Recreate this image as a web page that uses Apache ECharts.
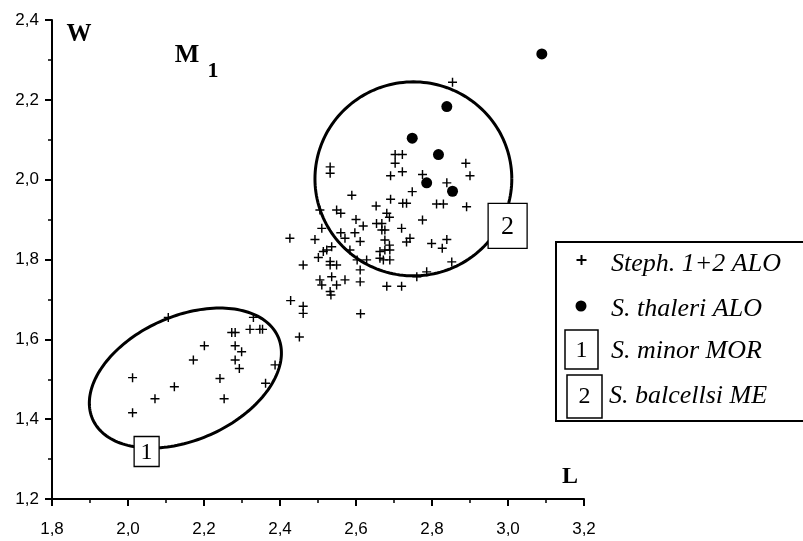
<!DOCTYPE html>
<html><head><meta charset="utf-8">
<script src="https://cdn.jsdelivr.net/npm/echarts/dist/echarts.min.js"></script>
<style>html,body{margin:0;padding:0;background:#fff}#c{width:803px;height:541px}</style>
</head><body><div id="c"></div>
<script>
// ---- data ----
const xTickValues = [1.8, 2.0, 2.2, 2.4, 2.6, 2.8, 3.0, 3.2];
const yTickValues = [1.2, 1.4, 1.6, 1.8, 2.0, 2.2, 2.4];
const stephPoints = [
  [2.854,2.244],[2.703,2.063],[2.722,2.063],[2.703,2.041],[2.889,2.041],
  [2.532,2.032],[2.532,2.016],[2.691,2.010],[2.722,2.020],[2.775,2.013],
  [2.900,2.010],[2.839,1.992],[2.748,1.970],[2.589,1.961],[2.691,1.951],
  [2.723,1.941],[2.733,1.941],[2.812,1.939],[2.830,1.939],[2.891,1.932],
  [2.653,1.934],[2.505,1.924],[2.549,1.924],[2.560,1.916],[2.681,1.916],
  [2.688,1.906],[2.775,1.899],[2.600,1.900],[2.619,1.884],[2.720,1.878],
  [2.510,1.878],[2.654,1.890],[2.668,1.890],[2.668,1.874],[2.676,1.874],
  [2.560,1.867],[2.597,1.867],[2.571,1.853],[2.611,1.845],[2.426,1.853],
  [2.492,1.850],[2.536,1.832],[2.676,1.849],[2.688,1.836],[2.742,1.853],
  [2.733,1.844],[2.839,1.850],[2.827,1.828],[2.799,1.840],[2.514,1.820],
  [2.523,1.824],[2.501,1.805],[2.584,1.824],[2.628,1.799],[2.663,1.820],
  [2.676,1.824],[2.689,1.824],[2.663,1.803],[2.672,1.799],[2.689,1.799],
  [2.603,1.799],[2.461,1.786],[2.532,1.786],[2.549,1.786],[2.532,1.795],
  [2.611,1.774],[2.536,1.757],[2.505,1.749],[2.510,1.736],[2.549,1.736],
  [2.571,1.749],[2.611,1.744],[2.681,1.733],[2.720,1.733],[2.760,1.757],
  [2.786,1.769],[2.852,1.794],[2.532,1.720],[2.534,1.711],[2.428,1.697],
  [2.461,1.683],[2.461,1.665],[2.612,1.664],[2.451,1.606],
  [2.106,1.655],[2.330,1.655],[2.273,1.617],[2.282,1.617],[2.321,1.625],
  [2.347,1.625],[2.354,1.625],[2.201,1.584],[2.282,1.584],[2.299,1.569],
  [2.172,1.548],[2.282,1.548],[2.293,1.527],[2.387,1.536],[2.012,1.504],
  [2.122,1.481],[2.242,1.502],[2.362,1.490],[2.071,1.451],[2.253,1.451],
  [2.012,1.416]
];
const thaleriPoints = [
  [3.089,2.315],[2.839,2.183],[2.748,2.104],[2.817,2.063],[2.786,1.992],[2.854,1.971]
];
const groupLabels = ['1', '2'];
const legendNames = ['Steph. 1+2 ALO', 'S. thaleri ALO', 'S. minor MOR', 'S. balcellsi ME'];

// ---- annotation geometry (ellipses drawn around groups) ----
const ELLIPSES = [
  {cx:2.151, cy:1.503, rx:0.267, ry:0.155, rot:24, box:{cx:2.049, cy:1.319, w:25, h:30, font:24}},
  {cx:2.751, cy:2.002, rx:0.259, ry:0.243, rot:0,  box:{cx:2.999, cy:1.884, w:39, h:45, font:26}}
];

const fmt = v => v.toFixed(1).replace('.', ',');
const PLUS = 'path://M0,4.2H10V5.8H0ZM4.2,0H5.8V10H4.2Z';
const serif = '"Liberation Serif", "DejaVu Serif", serif';

const chart = echarts.init(document.getElementById('c'), null, {renderer:'canvas'});
const axisCommon = {
  type:'value',
  splitLine:{show:false},
  axisLine:{show:true, onZero:false, lineStyle:{color:'#000', width:2}},
  axisTick:{show:true, inside:false, length:7, lineStyle:{color:'#000', width:2}},
  minorTick:{show:true, splitNumber:2, length:4, lineStyle:{color:'#000', width:1.5}},
  minorSplitLine:{show:false}
};
chart.setOption({
  animation:false,
  backgroundColor:'#fff',
  grid:{left:52, right:219, top:20, bottom:42, containLabel:false},
  xAxis:Object.assign({}, axisCommon, {
    min:xTickValues[0], max:xTickValues[xTickValues.length-1], interval:0.2,
    axisLabel:{margin:22, fontSize:17, color:'#000', fontFamily:'"Liberation Sans", Arial, sans-serif',
      showMinLabel:true, showMaxLabel:true, formatter:fmt}
  }),
  yAxis:Object.assign({}, axisCommon, {
    min:yTickValues[0], max:yTickValues[yTickValues.length-1], interval:0.2,
    axisLabel:{margin:13, fontSize:17, color:'#000', fontFamily:'"Liberation Sans", Arial, sans-serif',
      showMinLabel:true, showMaxLabel:true, formatter:fmt}
  }),
  series:[
    {
      type:'custom', name:'ellipses', silent:true, clip:false, z:1,
      data:ELLIPSES.map((e,i)=>[e.cx, e.cy]),
      renderItem:function(params, api){
        const e = ELLIPSES[params.dataIndex];
        const c = api.coord([e.cx, e.cy]);
        const sz = api.size([e.rx, e.ry]);
        const ax = sz[0], by = sz[1];
        const th = e.rot*Math.PI/180, ct = Math.cos(th), st = Math.sin(th);
        const pts = [];
        for (let i=0;i<=180;i++){
          const t = i/180*2*Math.PI;
          const px = ax*Math.cos(t), py = by*Math.sin(t);
          pts.push([c[0]+px*ct+py*st, c[1]-px*st+py*ct]);
        }
        const bc = api.coord([e.box.cx, e.box.cy]);
        return {type:'group', children:[
          {type:'polyline', shape:{points:pts}, style:{stroke:'#000', lineWidth:3, fill:null}},
          {type:'rect', shape:{x:bc[0]-e.box.w/2, y:bc[1]-e.box.h/2, width:e.box.w, height:e.box.h},
            style:{fill:'#fff', stroke:'#000', lineWidth:1.3}},
          {type:'text', style:{text:groupLabels[params.dataIndex], x:bc[0], y:bc[1]+1, align:'center', verticalAlign:'middle',
            font:e.box.font+'px '+serif, fill:'#000'}}
        ]};
      }
    },
    {name:legendNames[0], type:'scatter', data:stephPoints, symbol:PLUS, symbolSize:9,
      itemStyle:{color:'#000', opacity:1}, z:3},
    {name:legendNames[1], type:'scatter', data:thaleriPoints, symbol:'circle', symbolSize:11,
      itemStyle:{color:'#000', opacity:1}, z:4}
  ],
  graphic:[
    {type:'text', z:10, style:{text:'W', x:79, y:35, align:'center', verticalAlign:'middle', font:'bold 25px '+serif, fill:'#000'}},
    {type:'text', z:10, style:{text:'M', x:187, y:55, align:'center', verticalAlign:'middle', font:'bold 26px '+serif, fill:'#000'}},
    {type:'text', z:10, style:{text:'1', x:213, y:71, align:'center', verticalAlign:'middle', font:'bold 22px '+serif, fill:'#000'}},
    {type:'text', z:10, style:{text:'L', x:570, y:477, align:'center', verticalAlign:'middle', font:'bold 24px '+serif, fill:'#000'}},
    // legend box
    {type:'rect', z:20, shape:{x:556, y:242, width:262, height:179}, style:{fill:'#fff', stroke:'#000', lineWidth:2}},
    {type:'rect', z:21, shape:{x:576.5, y:259, width:10, height:2}, style:{fill:'#000'}},
    {type:'rect', z:21, shape:{x:580.5, y:255, width:2, height:10}, style:{fill:'#000'}},
    {type:'circle', z:21, shape:{cx:581, cy:306, r:5.5}, style:{fill:'#000'}},
    {type:'rect', z:21, shape:{x:565, y:330, width:33, height:39}, style:{fill:'#fff', stroke:'#000', lineWidth:1.5}},
    {type:'text', z:22, style:{text:groupLabels[0], x:581.5, y:351, align:'center', verticalAlign:'middle', font:'24px '+serif, fill:'#000'}},
    {type:'rect', z:21, shape:{x:567, y:375, width:35, height:43}, style:{fill:'#fff', stroke:'#000', lineWidth:1.5}},
    {type:'text', z:22, style:{text:groupLabels[1], x:584.5, y:397, align:'center', verticalAlign:'middle', font:'24px '+serif, fill:'#000'}},
    {type:'text', z:22, style:{text:legendNames[0], x:611, y:264, align:'left', verticalAlign:'middle', font:'italic 26px '+serif, fill:'#000'}},
    {type:'text', z:22, style:{text:legendNames[1], x:611, y:309, align:'left', verticalAlign:'middle', font:'italic 26px '+serif, fill:'#000'}},
    {type:'text', z:22, style:{text:legendNames[2], x:611, y:351, align:'left', verticalAlign:'middle', font:'italic 26px '+serif, fill:'#000'}},
    {type:'text', z:22, style:{text:legendNames[3], x:609, y:396, align:'left', verticalAlign:'middle', font:'italic 26px '+serif, fill:'#000'}}
  ]
});
</script>
</body></html>
